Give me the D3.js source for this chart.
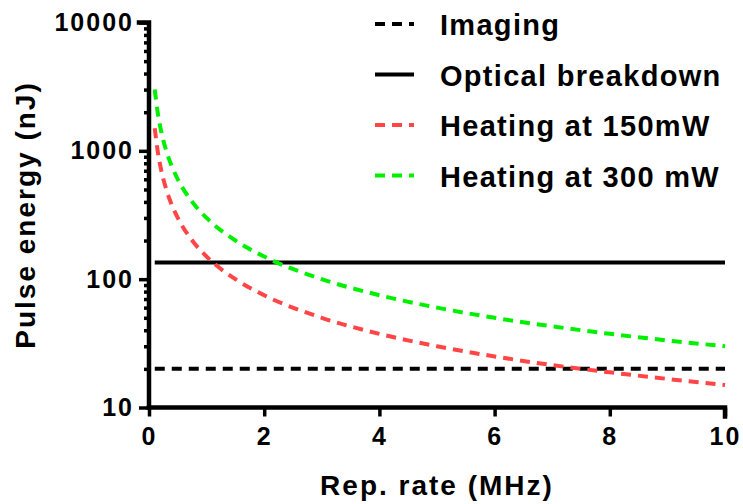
<!DOCTYPE html>
<html>
<head>
<meta charset="utf-8">
<script src="https://cdn.jsdelivr.net/npm/d3@7"></script>
<style>
  body { margin: 0; background: #fff; }
  text { font-family: 'Liberation Sans', Arial, sans-serif; font-weight: bold; fill: #000; }
</style>
</head>
<body>
<div id="chart"></div>
<script>
// values
var repRate = [0.1, 0.15, 0.2, 0.3, 0.4, 0.5, 0.75, 1, 1.5, 2, 3, 4, 5, 6, 7, 8, 9, 10];
var heating150 = [1500, 1000, 750, 500, 375, 300, 200, 150, 100, 75, 50, 37.5, 30, 25, 21.4, 18.8, 16.7, 15];
var heating300 = [3000, 2000, 1500, 1000, 750, 600, 400, 300, 200, 150, 100, 75, 60, 50, 42.9, 37.5, 33.3, 30];
var imagingLevel = 20;
var breakdownLevel = 135;
var xRange = [0.1, 10];
var xTicks = [0, 2, 4, 6, 8, 10];
var yTicks = [10, 100, 1000, 10000];
var legendNames = ['Imaging', 'Optical breakdown', 'Heating at 150mW', 'Heating at 300 mW'];

var width = 743, height = 504;
var margin = {top: 22.5, right: 18, bottom: 96.5, left: 149};

var svg = d3.select('#chart').append('svg')
    .attr('width', width)
    .attr('height', height);

var xScale = d3.scaleLinear()
    .domain([0, 10])
    .range([margin.left, width - margin.right]);

var yScale = d3.scaleLog()
    .domain([10, 10000])
    .range([height - margin.bottom, margin.top]);

var series = [
  {name: legendNames[0], color: '#000', dash: '10,7', values: xRange.map(function() { return imagingLevel; }), x: xRange},
  {name: legendNames[1], color: '#000', dash: null, values: xRange.map(function() { return breakdownLevel; }), x: xRange},
  {name: legendNames[2], color: '#ff4545', dash: '10,7', values: heating150, x: repRate},
  {name: legendNames[3], color: '#00f000', dash: '10,7', values: heating300, x: repRate}
];

var line = d3.line()
    .x(function(d) { return xScale(d[0]); })
    .y(function(d) { return yScale(d[1]); })
    .curve(d3.curveMonotoneX);

svg.selectAll('.series')
    .data(series)
  .enter().append('path')
    .attr('class', 'series')
    .attr('fill', 'none')
    .attr('stroke', function(d) { return d.color; })
    .attr('stroke-width', 4)
    .attr('stroke-dasharray', function(d) { return d.dash; })
    .attr('d', function(d) { return line(d.x.map(function(x, i) { return [x, d.values[i]]; })); });

// axes
var xAxis = d3.axisBottom(xScale)
    .tickValues(xTicks)
    .tickSize(9)
    .tickPadding(5)
    .tickFormat(d3.format('d'));

var minorTicks = [];
[10, 100, 1000].forEach(function(dec) {
  for (var k = 2; k <= 9; k++) minorTicks.push(dec * k);
});

var yAxis = d3.axisLeft(yScale)
    .tickValues(yTicks)
    .tickSize(10)
    .tickPadding(7)
    .tickFormat(d3.format('d'));

var yMinor = d3.axisLeft(yScale)
    .tickValues(minorTicks)
    .tickSize(5)
    .tickFormat('');

var gx = svg.append('g')
    .attr('transform', 'translate(0,' + (height - margin.bottom) + ')')
    .call(xAxis);

var gy = svg.append('g')
    .attr('transform', 'translate(' + margin.left + ',0)')
    .call(yAxis);

svg.append('g')
    .attr('transform', 'translate(' + margin.left + ',0)')
    .call(yMinor)
    .select('.domain').remove();

[gx, gy].forEach(function(g) {
  g.select('.domain').attr('stroke-width', 4.5).attr('stroke-linecap', 'square');
  g.selectAll('.tick text')
      .attr('font-size', '25px')
      .attr('letter-spacing', '2px');
});
svg.selectAll('.tick line').attr('stroke-width', 3.5);
gx.select('.domain').attr('d', 'M' + xScale(0) + ',0H' + xScale(10) + 'V9');
gy.select('.domain').attr('d', 'M-10,' + yScale(10000) + 'H0V' + yScale(10));
gx.selectAll('.tick text').attr('dy', '0.92em');
gy.selectAll('.tick text').attr('dx', '2px');

// axis titles
svg.append('text')
    .attr('x', (xScale(0) + xScale(10)) / 2)
    .attr('y', 495)
    .attr('text-anchor', 'middle')
    .attr('font-size', '28px')
    .attr('letter-spacing', '2px')
    .text('Rep. rate (MHz)');

svg.append('text')
    .attr('transform', 'translate(35,' + ((yScale(10) + yScale(10000)) / 2) + ') rotate(-90)')
    .attr('text-anchor', 'middle')
    .attr('font-size', '28px')
    .attr('letter-spacing', '2px')
    .text('Pulse energy (nJ)');

// legend
var legend = svg.selectAll('.legend')
    .data(series)
  .enter().append('g')
    .attr('class', 'legend')
    .attr('transform', function(d, i) { return 'translate(375,' + (24 + i * 50.5) + ')'; });

legend.append('line')
    .attr('x1', 0)
    .attr('x2', 39)
    .attr('stroke', function(d) { return d.color; })
    .attr('stroke-width', 4)
    .attr('stroke-dasharray', function(d) { return d.dash; });

legend.append('text')
    .attr('x', 65)
    .attr('y', 11)
    .attr('font-size', '29px')
    .attr('letter-spacing', '1.3px')
    .text(function(d) { return d.name; });
</script>
</body>
</html>
